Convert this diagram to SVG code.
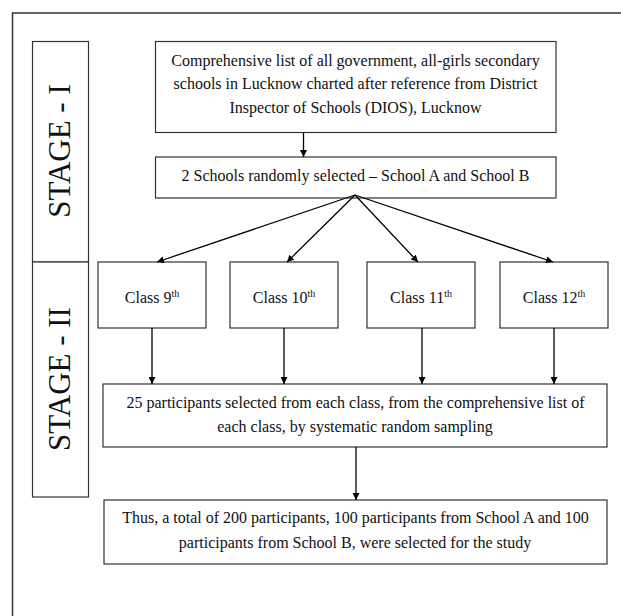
<svg xmlns="http://www.w3.org/2000/svg" width="621" height="616" viewBox="0 0 621 616">
<defs>
<style>
.box{fill:#fff;stroke:#333;stroke-width:1.2}
.t{font-family:"Liberation Serif","Times New Roman",serif;font-size:16px;fill:#111;text-anchor:middle}
.stage{font-family:"Liberation Serif","Times New Roman",serif;font-size:31px;fill:#111;text-anchor:middle}
.sup{font-size:10px}
.c{stroke:#000;stroke-width:1.3;fill:none;marker-end:url(#ah)}
</style>
<marker id="ah" viewBox="0 0 10 10" refX="10" refY="5" markerWidth="7" markerHeight="7" markerUnits="userSpaceOnUse" orient="auto">
<path d="M0,0 L10,5 L0,10 Z" fill="#000"/>
</marker>
</defs>
<rect x="0" y="0" width="621" height="616" fill="#fff"/>
<rect x="12.5" y="13" width="700" height="700" fill="none" stroke="#333" stroke-width="1.5"/>

<g id="stage1">
<rect class="box" x="32.5" y="41.5" width="56" height="220.5"/>
<text class="stage" transform="translate(70,151) rotate(-90)">STAGE - I</text>
</g>
<g id="stage2">
<rect class="box" x="32.5" y="262" width="56" height="235"/>
<text class="stage" transform="translate(70,379) rotate(-90)">STAGE - II</text>
</g>

<g id="list">
<rect class="box" x="155.5" y="41.5" width="400.5" height="91"/>
<text class="t" x="355.5" y="65.5">Comprehensive list of all government, all-girls secondary</text>
<text class="t" x="355.5" y="89">schools in Lucknow charted after reference from District</text>
<text class="t" x="355.5" y="113">Inspector of Schools (DIOS), Lucknow</text>
</g>
<g id="select">
<rect class="box" x="155.5" y="157" width="400.5" height="41"/>
<text class="t" x="355.5" y="181">2 Schools randomly selected – School A and School B</text>
</g>
<g id="class9">
<rect class="box" x="98" y="262" width="108" height="66"/>
<text class="t" x="152" y="303">Class 9<tspan class="sup" dy="-6">th</tspan></text>
</g>
<g id="class10">
<rect class="box" x="230" y="262" width="108" height="66"/>
<text class="t" x="284" y="303">Class 10<tspan class="sup" dy="-6">th</tspan></text>
</g>
<g id="class11">
<rect class="box" x="367" y="262" width="108" height="66"/>
<text class="t" x="421" y="303">Class 11<tspan class="sup" dy="-6">th</tspan></text>
</g>
<g id="class12">
<rect class="box" x="500" y="262" width="108" height="66"/>
<text class="t" x="554" y="303">Class 12<tspan class="sup" dy="-6">th</tspan></text>
</g>
<g id="participants">
<rect class="box" x="103" y="384" width="504" height="63"/>
<text class="t" x="355.5" y="408">25 participants selected from each class, from the comprehensive list of</text>
<text class="t" x="355" y="432">each class, by systematic random sampling</text>
</g>
<g id="total">
<rect class="box" x="104" y="500" width="503" height="64"/>
<text class="t" x="355.5" y="523">Thus, a total of 200 participants, 100 participants from School A and 100</text>
<text class="t" x="355" y="548">participants from School B, were selected for the study</text>
</g>

<g id="connectors">
<line class="c" x1="303.5" y1="132.5" x2="303.5" y2="157"/>
<line class="c" x1="355" y1="195" x2="157" y2="262"/>
<line class="c" x1="355" y1="195" x2="287" y2="262"/>
<line class="c" x1="355" y1="195" x2="418" y2="262"/>
<line class="c" x1="355" y1="195" x2="553" y2="262"/>
<line class="c" x1="152" y1="328" x2="152" y2="384"/>
<line class="c" x1="284" y1="328" x2="284" y2="384"/>
<line class="c" x1="422" y1="328" x2="422" y2="384"/>
<line class="c" x1="554" y1="328" x2="554" y2="384"/>
<line class="c" x1="356" y1="447" x2="356" y2="500"/>
</g>
</svg>
